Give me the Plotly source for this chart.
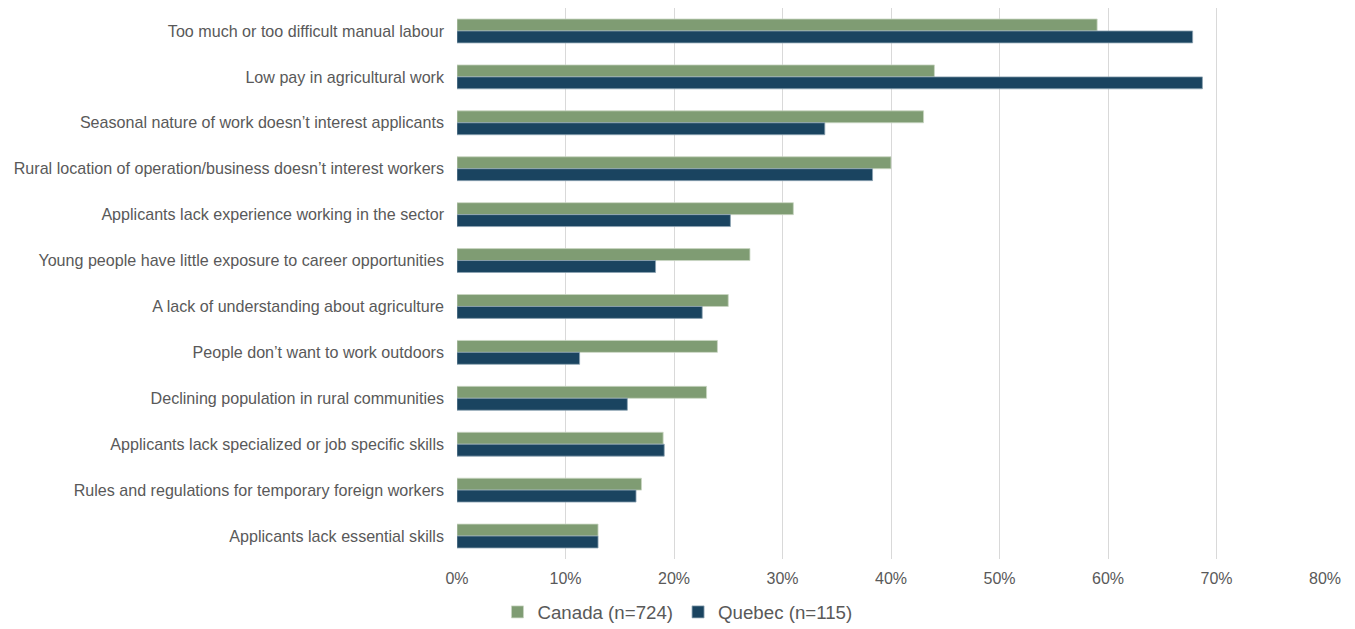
import plotly.graph_objects as go

categories = [
    "Too much or too difficult manual labour",
    "Low pay in agricultural work",
    "Seasonal nature of work doesn\u2019t interest applicants",
    "Rural location of operation/business doesn\u2019t interest workers",
    "Applicants lack experience working in the sector",
    "Young people have little exposure to career opportunities",
    "A lack of understanding about agriculture",
    "People don\u2019t want to work outdoors",
    "Declining population in rural communities",
    "Applicants lack specialized or job specific skills",
    "Rules and regulations for temporary foreign workers",
    "Applicants lack essential skills",
]
canada = [59.0, 44.0, 43.0, 40.0, 31.0, 27.0, 25.0, 24.0, 23.0, 19.0, 17.0, 13.0]
quebec = [67.8, 68.7, 33.9, 38.3, 25.2, 18.3, 22.6, 11.3, 15.7, 19.1, 16.5, 13.0]
x_ticks = [0, 10, 20, 30, 40, 50, 60, 70, 80]
x_tick_labels = [f"{v}%" for v in x_ticks]

fig = go.Figure()
fig.add_trace(go.Bar(
    y=categories, x=canada, orientation="h", name="Canada (n=724)",
    marker=dict(color="#7F9C73", line=dict(color="#c9d6c3", width=0.8)),
))
fig.add_trace(go.Bar(
    y=categories, x=quebec, orientation="h", name="Quebec (n=115)",
    marker=dict(color="#1A4460", line=dict(color="#8da3b3", width=0.8)),
))

fig.update_layout(
    width=1347, height=621,
    barmode="group", bargap=0.48, bargroupgap=0,
    paper_bgcolor="white", plot_bgcolor="white",
    margin=dict(l=449, r=30, t=0, b=70, autoexpand=False),
    font=dict(family="Liberation Sans, Arial, sans-serif", size=16, color="#595959"),
    xaxis=dict(
        range=[0, 80], tickvals=x_ticks, ticktext=x_tick_labels,
        showgrid=True, gridcolor="#d9d9d9", gridwidth=1,
        zeroline=False, showline=False, ticks="",
        ticklabelstandoff=8,
        tickfont=dict(size=16, color="#595959"),
    ),
    yaxis=dict(
        autorange="reversed", showgrid=False, zeroline=False,
        showline=False, ticks="", ticklabelstandoff=12,
        tickfont=dict(size=16.1, color="#595959"),
    ),
    legend=dict(
        orientation="h", xref="container", yref="container",
        x=0.497, xanchor="center", y=0.027, yanchor="middle",
        traceorder="normal", font=dict(size=18.7, color="#595959"),
        itemwidth=30,
    ),
    showlegend=True,
)

fig.write_html("out.html")
